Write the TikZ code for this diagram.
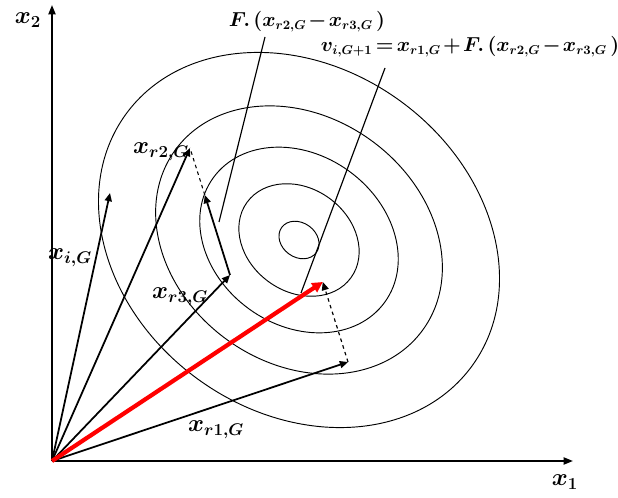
\documentclass[tikz,border=0pt]{standalone}
\usepackage{bm}
\usetikzlibrary{calc,arrows.meta}

\newcommand{\tightmath}{\medmuskip=2mu\relax\thickmuskip=3mu\relax}

\begin{document}
\begin{tikzpicture}[
  x=0.03cm, y=0.03cm,
  %% Contour lines of the objective
  contour/.style={draw=black, line width=0.8pt},
  %% Coordinate axes
  axis/.style={-{Triangle[length=8pt,width=6pt]}, line width=1.6pt, black},
  %% Population vectors
  vec/.style={-{Triangle[length=7pt,width=6pt]}, line width=1.5pt, black},
  mutant/.style={-{Triangle[length=9pt,width=9pt]}, line width=3.6pt, red},
  dvec/.style={-{Triangle[length=7pt,width=6pt]}, line width=1pt, dashed, black},
  guide/.style={line width=0.9pt, dashed, black},
  leader/.style={line width=1pt, black},
  lbl/.style={font=\huge, inner sep=1pt},
  note/.style={font=\fontsize{16}{19}\selectfont, inner sep=1pt}
]

\useasboundingbox (-52,-36) rectangle (566,461);

%% ── Points ───────────────────────────────────────────────────
\coordinate (O)  at (0,0);
\coordinate (C)  at (247,221);
\coordinate (xi) at (58,268);
\coordinate (r1) at (296,99);
\coordinate (r2) at (138,313);
\coordinate (r3) at (178,186);
\coordinate (fd) at ($(r3)!0.63!(r2)$);
\coordinate (v)  at ($(r1)+0.63*(r2)-0.63*(r3)$);

%% ── Contours ─────────────────────────────────────────────────
\foreach \s in {0.10,0.30,0.495,0.715,1.0}
  \draw[contour, rotate around={-36:(C)}] (C) ellipse [x radius=214*\s, y radius=172*\s];

%% ── Axes ─────────────────────────────────────────────────────
\coordinate (ax1) at (521,0);
\coordinate (ax2) at (0,456);
\draw[axis] (O) -- (ax1);
\draw[axis] (O) -- (ax2);
\node[lbl] (lx1) at (513,-21) {$\bm{x_1}$};
\node[lbl] (lx2) at (-24,441) {$\bm{x_2}$};

%% ── Vectors ──────────────────────────────────────────────────
\draw[vec] (O) -- (xi);
\draw[vec] (O) -- (r2);
\draw[vec] (O) -- (r3);
\draw[vec] (O) -- (r1);
\draw[vec] (r3) -- (fd);
\draw[guide] (fd) -- (r2);
\draw[dvec] (r1) -- (v);
\draw[mutant] (O) -- (v);

\node[lbl] (lxi) at (18,203) {$\bm{x_{i,G}}$};
\node[lbl] (lr2) at (109,309) {$\bm{x_{r2,G}}$};
\node[lbl] (lr3) at (128,164) {$\bm{x_{r3,G}}$};
\node[lbl] (lr1) at (164,31) {$\bm{x_{r1,G}}$};

%% ── Annotations ──────────────────────────────────────────────
\node[note] (lF) at (255,439) {$\tightmath\bm{F.\,(x_{r2,G}-x_{r3,G}\,)}$};
\node[note] (lv) at (418,414) {$\tightmath\bm{v_{i,G+1}=x_{r1,G}+F.\,(x_{r2,G}-x_{r3,G}\,)}$};
\coordinate (sF) at (213,424);
\coordinate (eF) at (167,239);
\coordinate (sv) at (333,393);
\coordinate (ev) at (249,168);
\draw[leader] (sF) -- (eF);
\draw[leader] (sv) -- (ev);

\end{tikzpicture}
\end{document}
